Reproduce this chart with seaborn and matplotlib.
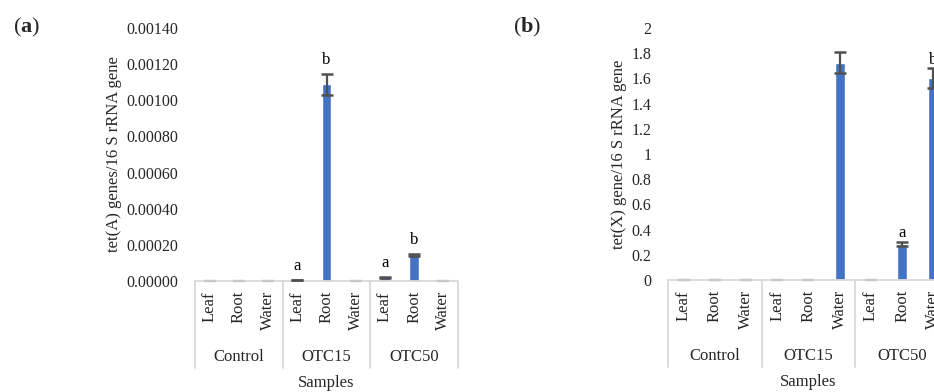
import matplotlib
matplotlib.use("Agg")
import matplotlib.pyplot as plt
import matplotlib.transforms as mtransforms
import numpy as np
import pandas as pd
import seaborn as sns

sns.set_theme(style="white")
plt.rcParams["font.family"] = ["Liberation Serif", "DejaVu Serif"]
plt.rcParams["mathtext.fontset"] = "custom"
plt.rcParams["mathtext.rm"] = "Liberation Serif"
plt.rcParams["mathtext.bf"] = "Liberation Serif:bold"

# ---- data ----
treatments = ["Control", "OTC15", "OTC50"]
samples = ["Leaf", "Root", "Water"]

tetA_mean = [0.0, 0.0, 0.0,
             0.000005, 0.00109, 0.0,
             0.00002, 0.000145, 0.0]
tetA_err = [0.0, 0.0, 0.0,
            0.000002, 0.000058, 0.0,
            0.000003, 0.000006, 0.0]
tetA_letters = ["", "", "", "a", "b", "", "a", "b", ""]
tetA_ticks = [0.0, 0.0002, 0.0004, 0.0006, 0.0008, 0.0010, 0.0012, 0.0014]
tetA_ticklabels = ["0.00000", "0.00020", "0.00040", "0.00060", "0.00080",
                   "0.00100", "0.00120", "0.00140"]

tetX_mean = [0.0, 0.0, 0.0,
             0.0, 0.0, 1.725,
             0.0, 0.285, 1.60]
tetX_err = [0.0, 0.0, 0.0,
            0.0, 0.0, 0.085,
            0.0, 0.018, 0.08]
tetX_letters = ["", "", "", "", "", "", "", "a", "b"]
tetX_ticks = [0, 0.2, 0.4, 0.6, 0.8, 1.0, 1.2, 1.4, 1.6, 1.8, 2.0]
tetX_ticklabels = ["0", "0.2", "0.4", "0.6", "0.8", "1", "1.2", "1.4", "1.6", "1.8", "2"]

BAR = "#4472C4"
ERR = "#505050"
FRAME = "#d9d9d9"
FS = 12


def panel(ax, mean, err, letters, ticks, ticklabels, ylabel, ymax, letter_off):
    slots = [f"{t}|{s}" for t in treatments for s in samples]
    df = pd.DataFrame({"slot": slots, "value": mean})
    sns.barplot(data=df, x="slot", y="value", order=slots, color=BAR,
                saturation=1, width=0.33, errorbar=None, ax=ax)
    xs = np.arange(len(slots))
    mean = np.asarray(mean)
    err = np.asarray(err)
    has = err > 0
    ax.errorbar(xs[has], mean[has], yerr=err[has], fmt="none", ecolor=ERR,
                elinewidth=1.6, capsize=4, capthick=1.8, zorder=3)
    ax.errorbar(xs[~has], mean[~has], yerr=err[~has], fmt="none",
                ecolor="#c8c8c8", elinewidth=1.0, capsize=4, capthick=1.6,
                zorder=3, clip_on=False)
    for x, m, e, lab in zip(xs, mean, err, letters):
        if lab:
            ax.annotate(lab, (x, m + e), xytext=(0, letter_off),
                        textcoords="offset points", ha="center", va="center",
                        fontsize=FS, color="black")

    ax.set_xlim(-0.5, len(slots) - 0.5)
    ax.set_ylim(0, ymax)
    ax.set_yticks(ticks)
    ax.set_yticklabels(ticklabels, fontsize=FS - 0.5)
    ax.tick_params(axis="y", length=0, pad=12)
    ax.set_xticks([])
    ax.set_xlabel("")
    ax.set_ylabel(ylabel, fontsize=FS, labelpad=3)
    for s in ["top", "right", "left"]:
        ax.spines[s].set_visible(False)
    ax.spines["bottom"].set_color(FRAME)
    ax.spines["bottom"].set_linewidth(1.3)

    trans = mtransforms.blended_transform_factory(ax.transData, ax.transAxes)
    # sample names, rotated
    for x, s in zip(xs, samples * len(treatments)):
        ax.text(x, -0.04, s, rotation=90, ha="center", va="top",
                fontsize=FS, transform=trans)
    # treatment names and group separators
    for i, t in enumerate(treatments):
        ax.text(3 * i + 1, -0.30, t, ha="center", va="center",
                fontsize=FS, transform=trans)
    for b in [-0.5, 2.5, 5.5, 8.5]:
        ax.plot([b, b], [0, -0.344], color=FRAME, lw=1.3, transform=trans,
                clip_on=False)
    ax.text(4, -0.403, "Samples", ha="center", va="center", fontsize=FS,
            transform=trans)


fig = plt.figure(figsize=(9.34, 3.92), dpi=100)
axA = fig.add_axes([195 / 934, 1 - 281 / 392, 263 / 934, 253 / 392])
axB = fig.add_axes([668 / 934, 1 - 280 / 392, 281 / 934, 252 / 392])

panel(axA, tetA_mean, tetA_err, tetA_letters, tetA_ticks, tetA_ticklabels,
      "tet(A) genes/16 S rRNA gene", 0.0014, 10)
panel(axB, tetX_mean, tetX_err, tetX_letters, tetX_ticks, tetX_ticklabels,
      "tet(X) gene/16 S rRNA gene", 2.0, 6)

fig.text(13 / 934, 1 - 27 / 392, r"($\mathbf{a}$)", fontsize=16,
         ha="left", va="center")
fig.text(513 / 934, 1 - 27 / 392, r"($\mathbf{b}$)", fontsize=16,
         ha="left", va="center")

fig.savefig("out.png", dpi=100)
